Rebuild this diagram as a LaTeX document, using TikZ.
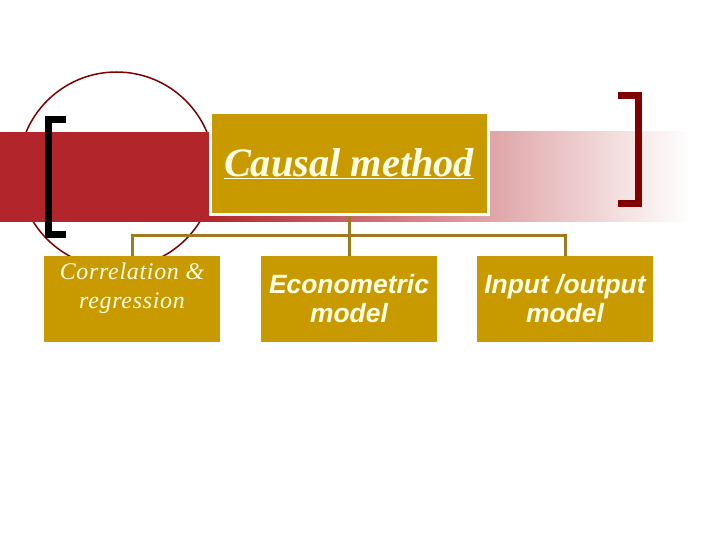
\documentclass[tikz,border=0pt]{standalone}
\usepackage{fontspec}
\setmainfont{Liberation Serif}
\setsansfont{Liberation Sans}
\usetikzlibrary{positioning}
\definecolor{band}{RGB}{178,38,43}
\definecolor{gold}{RGB}{201,154,0}
\definecolor{wire}{RGB}{158,123,30}
\definecolor{maroon}{RGB}{128,0,0}
\definecolor{cream}{RGB}{255,255,228}
\tikzset{
  head/.style={fill=gold,draw=white,line width=3bp,minimum width=278bp,minimum height=102bp,align=center,text=cream,font=\fontsize{40.5}{44}\selectfont\bfseries\itshape},
  kid/.style={fill=gold,minimum width=176bp,minimum height=86bp,inner sep=0pt},
  kidsans/.style={align=center,text=cream,font=\fontsize{26.5}{29}\selectfont\sffamily\bfseries\itshape},
  kidserif/.style={align=center,text=cream,font=\fontsize{24}{29}\selectfont\itshape\addfontfeature{LetterSpace=3}},
  link/.style={draw=wire,line width=3bp},
  brack/.style={line width=7bp,line join=miter}
}
\begin{document}
\begin{tikzpicture}[x=1bp,y=-1bp]
\useasboundingbox (0,0) rectangle (720,540);
% backdrop
\draw[maroon,line width=1.5bp] (116.5,170) circle (98bp);
\fill[band] (0,132) rectangle (210,222);
\shade[left color=band,right color=white] (210,132) rectangle (690,222);
\draw[brack,black] (66,120) -| (48.5,234.5) -- (66,234.5);
\draw[brack,maroon] (618,95.5) -| (638,203.5) -- (618,203.5);
% boxes
\node[head] (top) at (349,164) {\underline{Causal method}};
\node[kid] (c1) at (132,299) {};
\node[kid] (c2) at (349,299) {};
\node[kid] (c3) at (565,299) {};
\node[kidserif] at (132,288) {Correlation \&\\regression};
\node[kidsans] at (c2) {Econometric\\model};
\node[kidsans] at (c3) {Input /output\\model};
% connectors
\draw[link] (top.south) -- (c2.north);
\draw[link] (c1.north) -- ++(0,-20) -| (c3.north);
\end{tikzpicture}
\end{document}
